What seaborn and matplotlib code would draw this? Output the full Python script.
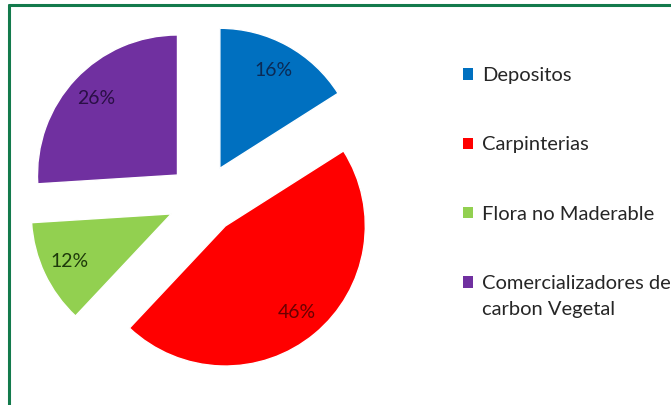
import matplotlib
matplotlib.use("Agg")
import matplotlib.pyplot as plt
import seaborn as sns
from matplotlib.patches import Patch
from matplotlib.lines import Line2D

# data
categories = ["Depositos", "Carpinterias", "Flora no Maderable",
              "Comercializadores de"]
last_label_line2 = "carbon Vegetal"
shares = [16, 46, 12, 26]
colors = ["#0070C0", "#FF0000", "#92D050", "#7030A0"]
label_colors = ["#0B2A55", "#6A0000", "#1E3A0A", "#2A0F45"]

sns.set_style("white")
plt.rcParams["font.family"] = ["Lato", "DejaVu Sans"]

fig = plt.figure(figsize=(6.71, 4.05), dpi=100)
ax = fig.add_axes([0, 0, 406 / 671, 1])

wedges, texts, autotexts = ax.pie(
    shares, colors=colors, startangle=90, counterclock=False,
    explode=[0.25] * len(shares), autopct="%1.0f%%", pctdistance=0.8,
    textprops={"fontsize": 14})
for t, c in zip(autotexts, label_colors):
    t.set_color(c)

ax.set_xlim(-1.45, 1.45)
ax.set_ylim(-1.471, 1.421)
ax.set_aspect("auto")

handles = [Patch(facecolor=c, edgecolor="none") for c in colors]
leg = fig.legend(handles, categories, loc="upper left",
                 bbox_to_anchor=(445 / 671, 1 - 49 / 405), frameon=False,
                 fontsize=14.5, handlelength=0.5, handleheight=0.5,
                 handletextpad=0.45, labelspacing=2.6)

# second line of the last legend entry, placed under its first line
fig.canvas.draw()
last = leg.get_texts()[-1]
bb = last.get_window_extent().transformed(fig.transFigure.inverted())
fig.text(bb.x0, bb.y0 - 0.022, last_label_line2, fontsize=14.5,
         va="top", ha="left")

# green frame (top and left edges only)
border = "#137A4C"
fig.add_artist(Line2D([8.5 / 671, 1], [1 - 4.5 / 405, 1 - 4.5 / 405],
                      color=border, lw=2.2, transform=fig.transFigure))
fig.add_artist(Line2D([8.5 / 671, 8.5 / 671], [0, 1 - 4.5 / 405],
                      color=border, lw=2.2, transform=fig.transFigure))

fig.savefig("out.png", dpi=100)
